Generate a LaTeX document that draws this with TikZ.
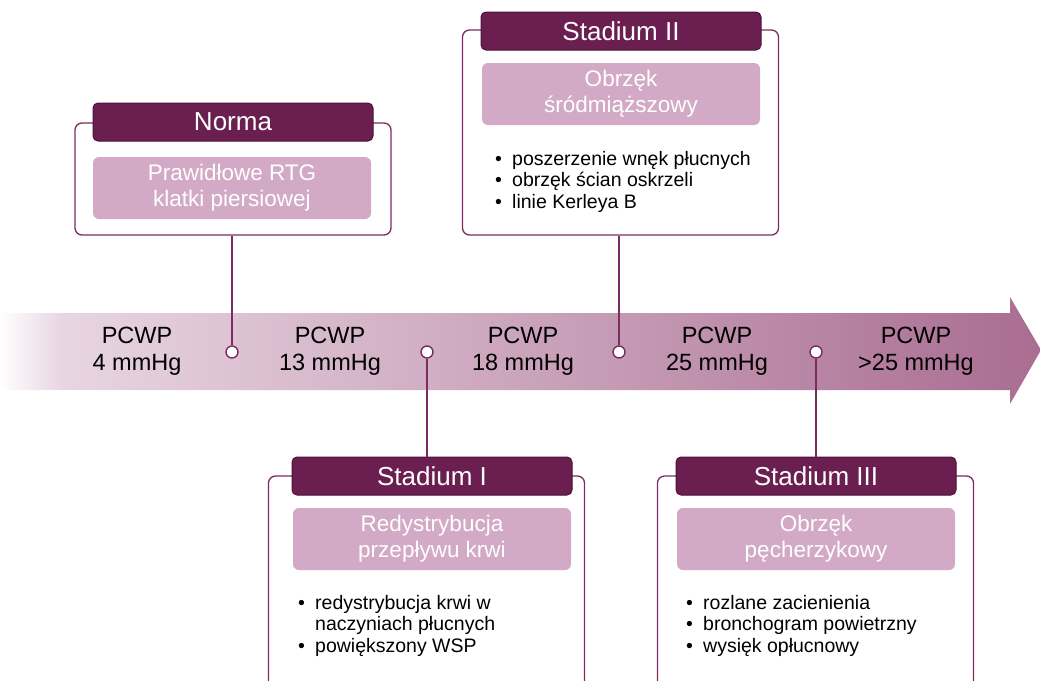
\documentclass[tikz,border=0pt]{standalone}
\usepackage{fontspec}
\setmainfont{Liberation Sans}
\usetikzlibrary{positioning}
\definecolor{plum}{HTML}{6B1F50}
\definecolor{plumdark}{HTML}{4A1238}
\definecolor{plumline}{HTML}{7B2D62}
\definecolor{pinkbox}{HTML}{D2AAC5}
\definecolor{bandA}{HTML}{E8D5E2}
\definecolor{bandB}{HTML}{A96D91}
\pgfdeclarehorizontalshading{band}{100bp}{color(0bp)=(white); color(25bp)=(white); color(28bp)=(bandA); color(75bp)=(bandB); color(100bp)=(bandB)}
\tikzstyle{frame}=[draw=plumline,line width=1.3pt,rounded corners=7pt,fill=white,minimum width=316pt,inner sep=0pt]
\tikzstyle{titlebox}=[draw=plumdark,fill=plum,line width=1pt,rounded corners=5pt,minimum width=280pt,minimum height=38pt,inner sep=0pt,text=white,font=\fontsize{26}{28}\selectfont]
\tikzstyle{subbox}=[fill=pinkbox,rounded corners=6pt,minimum width=278pt,minimum height=62pt,inner sep=0pt,text=white,align=center,font=\fontsize{22.5}{26}\selectfont]
\tikzstyle{bullets}=[align=left,anchor=base west,inner sep=0pt,font=\fontsize{19.5}{21.5}\selectfont]
\tikzstyle{pin}=[circle,draw=plumline,fill=white,line width=1.4pt,minimum size=12pt,inner sep=0pt]
\tikzstyle{link}=[draw=plumline,line width=1.4pt]
\tikzstyle{pcwp}=[align=center,font=\fontsize{23.5}{27}\selectfont]
\newcommand{\bl}{\makebox[17pt][l]{\textbullet}}
\begin{document}
\begin{tikzpicture}[x=1pt,y=-1pt]
    \useasboundingbox (0,0) rectangle (1040,680);
    \clip (0,0) rectangle (1040,680);

    % timeline arrow
    \shade[shading=band] (0,313) -- (1010,313) -- (1010,297) -- (1041,350)
        -- (1010,404) -- (1010,390) -- (0,390) -- cycle;

    \foreach \pos/ \name in {{(137,351)/4 mmHg}, {(330,351)/13 mmHg}, {(523,351)/18 mmHg},
        {(717,351)/25 mmHg}, {(916,351)/>25 mmHg}}
        \node[pcwp] at \pos {PCWP\\\name};

    % frames
    \node[frame,minimum height=112pt] (fnorma) at (233,179) {};
    \node[frame,minimum height=205pt] (fst2) at (620.5,132.5) {};
    \node[frame,minimum height=224pt] (fst1) at (426.5,588) {};
    \node[frame,minimum height=224pt] (fst3) at (815.5,588) {};

    % pins on the timeline
    \foreach \pos/ \name in {{(232,352)/p1}, {(427,352)/p2}, {(619,352)/p3}, {(816,352)/p4}}
        \node[pin] (\name) at \pos {};

    % titles
    \node[titlebox] (tnorma) at (233,122) {Norma};
    \node[titlebox] (tst2) at (621,31) {Stadium II};
    \node[titlebox] (tst1) at (432,476) {Stadium I};
    \node[titlebox] (tst3) at (816,476) {Stadium III};

    % connectors
    \path[link] (p1 |- fnorma.south) -- (p1);
    \path[link] (p3 |- fst2.south) -- (p3);
    \path[link] (p2) -- (p2 |- tst1.north);
    \path[link] (p4) -- (p4 |- tst3.north);

    % subtitles
    \node[subbox] (snorma) at (232,188) {Prawidłowe RTG\\klatki piersiowej};
    \node[subbox] (sst2) at (621,94) {Obrzęk\\śródmiąższowy};
    \node[subbox] (sst1) at (432,539) {Redystrybucja\\przepływu krwi};
    \node[subbox] (sst3) at (816,539) {Obrzęk\\pęcherzykowy};

    % bullet lists (anchored at the last baseline)
    \node[bullets] (lst2) at (495,208) {\bl poszerzenie wnęk płucnych\\\bl obrzęk ścian oskrzeli\\\bl linie Kerleya B};
    \node[bullets] (lst1) at (298,652) {\bl redystrybucja krwi w\\\hspace{17pt}naczyniach płucnych\\\bl powiększony WSP};
    \node[bullets] (lst3) at (686,652) {\bl rozlane zacienienia\\\bl bronchogram powietrzny\\\bl wysięk opłucnowy};
\end{tikzpicture}
\end{document}
